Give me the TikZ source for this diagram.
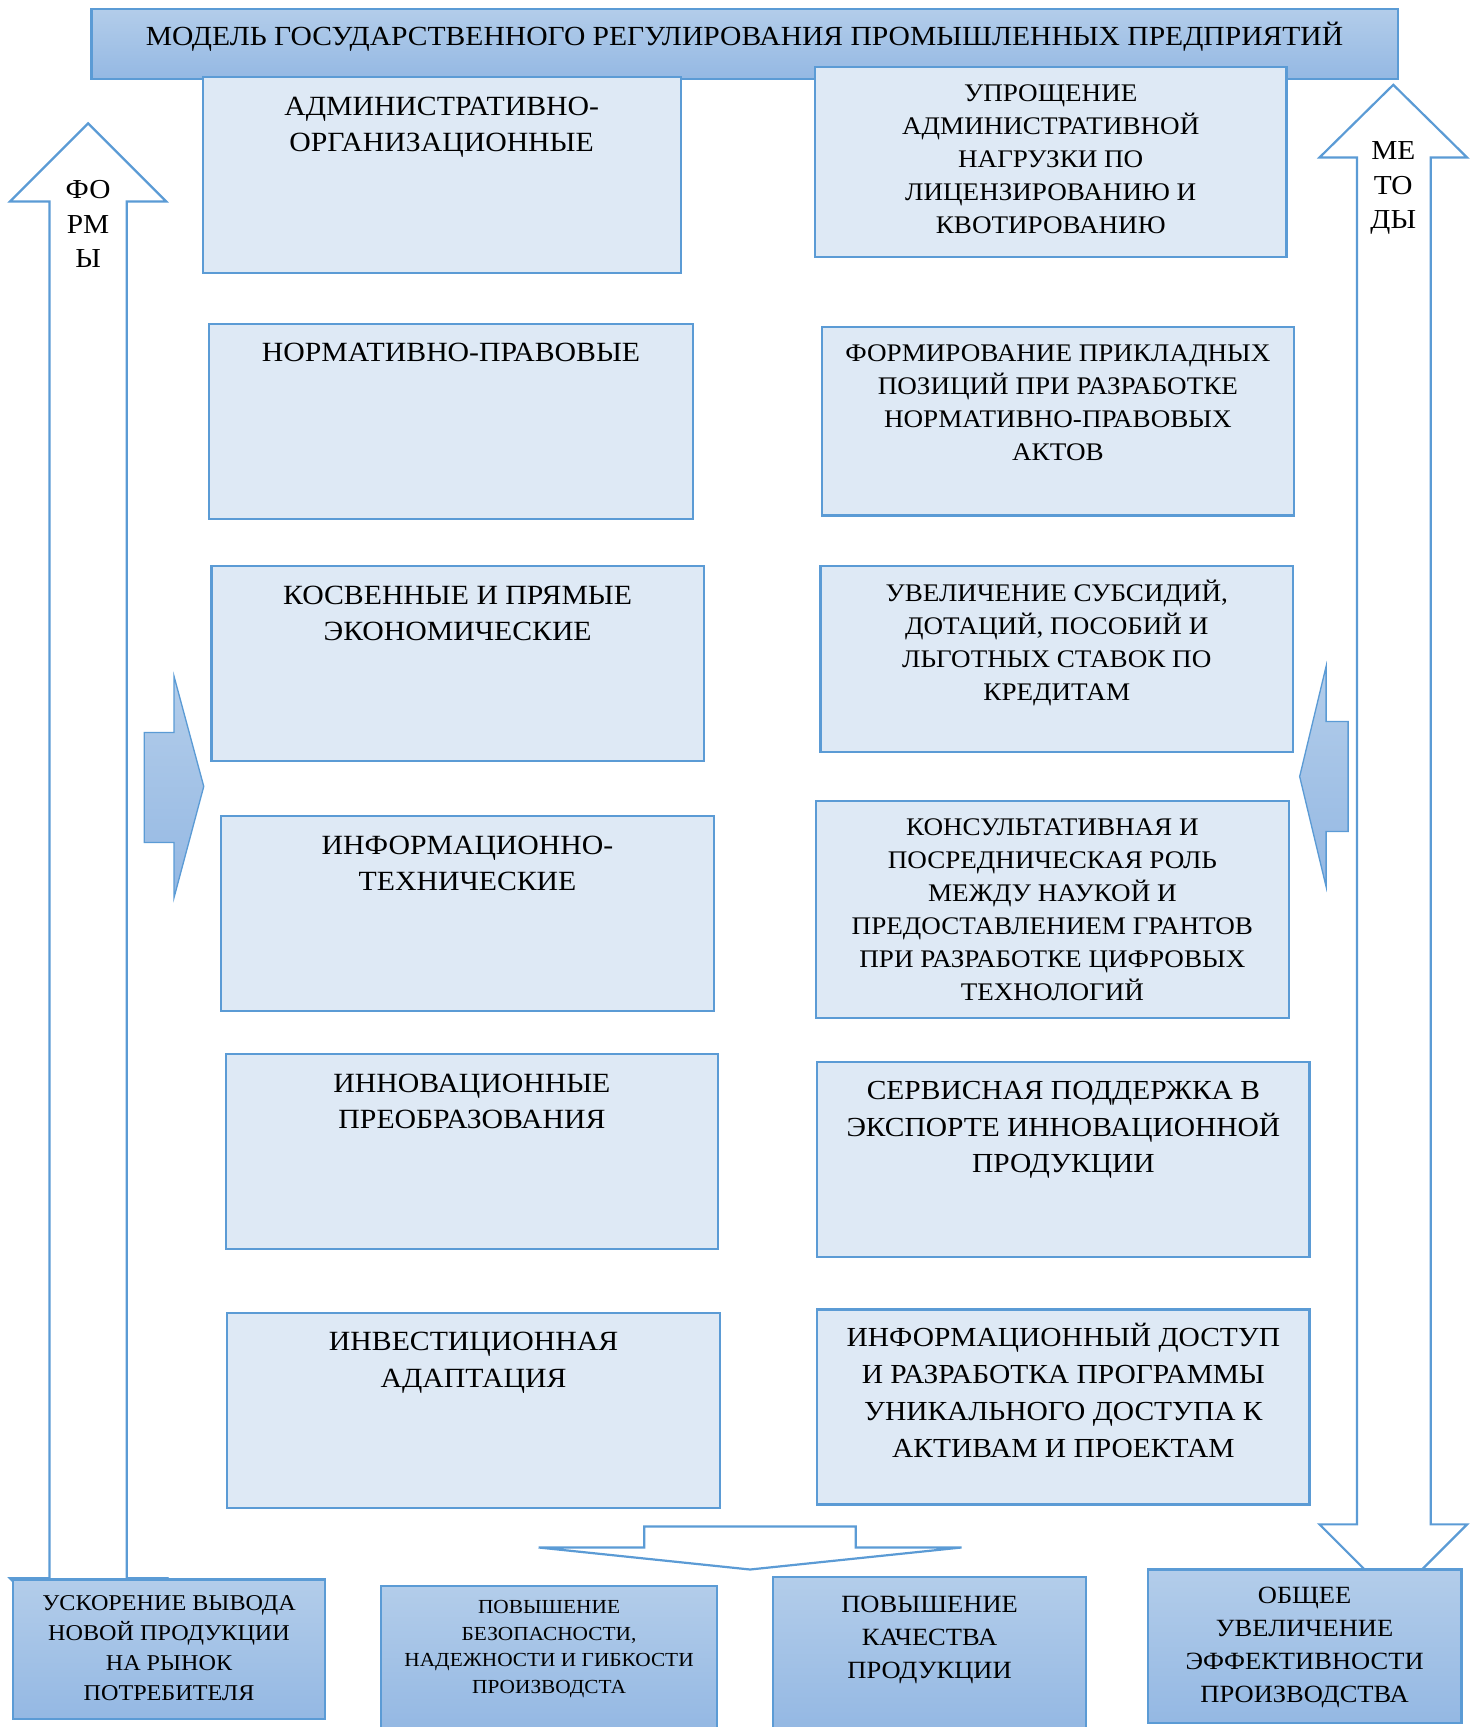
\documentclass[tikz,border=0pt]{standalone}
\usepackage{fontspec}
\setmainfont{Liberation Serif}[FakeStretch=1.07]
\definecolor{bord}{HTML}{5B9BD5}
\definecolor{lightfill}{HTML}{DEE9F5}
\definecolor{gtop}{HTML}{B3CDEA}
\definecolor{gbot}{HTML}{94B8E3}
\tikzset{
  lbox/.style={draw=bord, line width=2pt, fill=lightfill, inner sep=0pt},
  gbox/.style={draw=bord, line width=2pt, top color=gtop, bottom color=gbot, inner sep=0pt},
  barrow/.style={draw=bord, line width=2pt, fill=white, line join=miter},
  garrow/.style={draw=bord, line width=1.2pt, top color=gtop, bottom color=gbot},
  tL/.style={inner sep=0pt, align=center, font=\fontsize{25.25}{33}\selectfont},
  tR/.style={inner sep=0pt, align=center, font=\fontsize{23}{30}\selectfont},
  tR2/.style={inner sep=0pt, align=center, font=\fontsize{25}{33.5}\selectfont},
  tB1/.style={inner sep=0pt, align=center, font=\fontsize{20.5}{27}\selectfont},
  tB2/.style={inner sep=0pt, align=center, font=\fontsize{18.1}{24}\selectfont},
  tB3/.style={inner sep=0pt, align=center, font=\fontsize{22.5}{30}\selectfont},
  tA/.style={inner sep=0pt, align=center, font=\fontsize{24.9}{31.5}\selectfont},
}
\begin{document}
\begin{tikzpicture}[x=1pt,y=-1pt]
\useasboundingbox (0,0) rectangle (1342,1568);
% big side arrows
\path[barrow] (80,112) -- (151,183) -- (115,183) -- (115,1433) -- (151,1433) -- (80,1504) -- (9,1433) -- (45,1433) -- (45,183) -- (9,183) -- cycle;
\path[barrow] (1265,77) -- (1332,143) -- (1299,143) -- (1299,1384) -- (1332,1384) -- (1265,1451) -- (1198,1384) -- (1232,1384) -- (1232,143) -- (1198,143) -- cycle;
\node[tA, anchor=north] (formy) at (80,158) {\strut ФО\\РМ\\Ы};
\node[tA, anchor=north] (metody) at (1265,122.5) {\strut МЕ\\ТО\\ДЫ};
% title
\node[gbox, minimum width=1186pt, minimum height=64pt] (title) at (676,40) {};
\node[inner sep=0pt, anchor=base, font=\fontsize{25.1}{30}\selectfont] (titlet) at (676,41) {МОДЕЛЬ ГОСУДАРСТВЕННОГО РЕГУЛИРОВАНИЯ ПРОМЫШЛЕННЫХ ПРЕДПРИЯТИЙ};
% left column
\node[lbox, minimum width=434pt, minimum height=178pt] (L1) at (401,159) {};
\node[tL, anchor=north] (L1t) at ([yshift=-12.6pt]L1.north) {\strut АДМИНИСТРАТИВНО-\\ОРГАНИЗАЦИОННЫЕ};
\node[lbox, minimum width=439pt, minimum height=177pt] (L2) at (409.5,382.5) {};
\node[tL, anchor=north] (L2t) at ([yshift=-11.6pt]L2.north) {\strut НОРМАТИВНО-ПРАВОВЫЕ};
\node[lbox, minimum width=447pt, minimum height=177pt] (L3) at (415.5,602.5) {};
\node[tL, anchor=north] (L3t) at ([yshift=-12.3pt]L3.north) {\strut КОСВЕННЫЕ И ПРЯМЫЕ\\ЭКОНОМИЧЕСКИЕ};
\node[lbox, minimum width=447pt, minimum height=177pt] (L4) at (424.5,829.5) {};
\node[tL, anchor=north] (L4t) at ([yshift=-12.3pt]L4.north) {\strut ИНФОРМАЦИОННО-\\ТЕХНИЧЕСКИЕ};
\node[lbox, minimum width=447pt, minimum height=177pt] (L5) at (428.5,1045.5) {};
\node[tL, anchor=north] (L5t) at ([yshift=-12.3pt]L5.north) {\strut ИННОВАЦИОННЫЕ\\ПРЕОБРАЗОВАНИЯ};
\node[lbox, minimum width=448pt, minimum height=177pt] (L6) at (430,1280.5) {};
\node[tL, anchor=north] (L6t) at ([yshift=-12.3pt]L6.north) {\strut ИНВЕСТИЦИОННАЯ\\АДАПТАЦИЯ};
% right column
\node[lbox, minimum width=428pt, minimum height=172pt] (R1) at (954,147) {};
\node[tR, anchor=north] (R1t) at ([yshift=-11.1pt]R1.north) {\strut УПРОЩЕНИЕ\\АДМИНИСТРАТИВНОЙ\\НАГРУЗКИ ПО\\ЛИЦЕНЗИРОВАНИЮ И\\КВОТИРОВАНИЮ};
\node[lbox, minimum width=429pt, minimum height=171pt] (R2) at (960.5,382.5) {};
\node[tR, anchor=north] (R2t) at ([yshift=-11.1pt]R2.north) {\strut ФОРМИРОВАНИЕ ПРИКЛАДНЫХ\\ПОЗИЦИЙ ПРИ РАЗРАБОТКЕ\\НОРМАТИВНО-ПРАВОВЫХ\\АКТОВ};
\node[lbox, minimum width=429pt, minimum height=169pt] (R3) at (959.5,598.5) {};
\node[tR, anchor=north] (R3t) at ([yshift=-11.8pt]R3.north) {\strut УВЕЛИЧЕНИЕ СУБСИДИЙ,\\ДОТАЦИЙ, ПОСОБИЙ И\\ЛЬГОТНЫХ СТАВОК ПО\\КРЕДИТАМ};
\node[lbox, minimum width=429pt, minimum height=197pt] (R4) at (955.5,825.5) {};
\node[tR, anchor=north] (R4t) at ([yshift=-11.1pt]R4.north) {\strut КОНСУЛЬТАТИВНАЯ И\\ПОСРЕДНИЧЕСКАЯ РОЛЬ\\МЕЖДУ НАУКОЙ И\\ПРЕДОСТАВЛЕНИЕМ ГРАНТОВ\\ПРИ РАЗРАБОТКЕ ЦИФРОВЫХ\\ТЕХНОЛОГИЙ};
\node[lbox, minimum width=447pt, minimum height=177pt] (R5) at (965.5,1052.5) {};
\node[tR2, anchor=north] (R5t) at ([yshift=-11.3pt]R5.north) {\strut СЕРВИСНАЯ ПОДДЕРЖКА В\\ЭКСПОРТЕ ИННОВАЦИОННОЙ\\ПРОДУКЦИИ};
\node[lbox, minimum width=447pt, minimum height=177pt] (R6) at (965.5,1277.5) {};
\node[tR2, anchor=north] (R6t) at ([yshift=-11.3pt]R6.north) {\strut ИНФОРМАЦИОННЫЙ ДОСТУП\\И РАЗРАБОТКА ПРОГРАММЫ\\УНИКАЛЬНОГО ДОСТУПА К\\АКТИВАМ И ПРОЕКТАМ};
% small arrows
\path[garrow] (131,665) -- (158,665) -- (158,614) -- (185,714) -- (158,815) -- (158,765) -- (131,765) -- cycle;
\path[garrow] (1224,655) -- (1204,655) -- (1204,605) -- (1180,705) -- (1204,805) -- (1204,755) -- (1224,755) -- cycle;
\path[barrow] (489,1405) -- (585,1405) -- (585,1386) -- (777,1386) -- (777,1405) -- (873,1405) -- (681,1425) -- cycle;
% bottom boxes
\node[gbox, minimum width=283pt, minimum height=127pt] (B1) at (153.5,1497.5) {};
\node[tB1, anchor=north] (B1t) at ([yshift=-10.4pt]B1.north) {\strut УСКОРЕНИЕ ВЫВОДА\\НОВОЙ ПРОДУКЦИИ\\НА РЫНОК\\ПОТРЕБИТЕЛЯ};
\node[gbox, minimum width=305pt, minimum height=130pt] (B2) at (498.5,1505) {};
\node[tB2, anchor=north] (B2t) at ([yshift=-9.2pt]B2.north) {\strut ПОВЫШЕНИЕ\\БЕЗОПАСНОСТИ,\\НАДЕЖНОСТИ И ГИБКОСТИ\\ПРОИЗВОДСТА};
\node[gbox, minimum width=284pt, minimum height=138pt] (B3) at (844,1501) {};
\node[tB3, anchor=north] (B3t) at ([yshift=-11.9pt]B3.north) {\strut ПОВЫШЕНИЕ\\КАЧЕСТВА\\ПРОДУКЦИИ};
\node[gbox, minimum width=285pt, minimum height=139pt] (B4) at (1184.5,1494.5) {};
\node[tB3, anchor=north] (B4t) at ([yshift=-10.9pt]B4.north) {\strut ОБЩЕЕ\\УВЕЛИЧЕНИЕ\\ЭФФЕКТИВНОСТИ\\ПРОИЗВОДСТВА};
\end{tikzpicture}
\end{document}
